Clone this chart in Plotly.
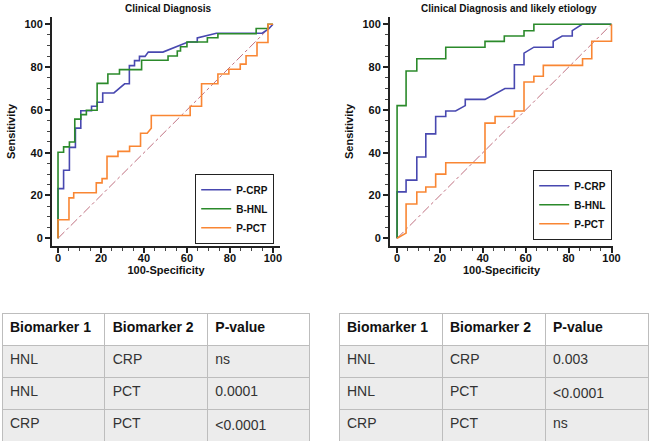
import plotly.graph_objects as go

W, H = 650, 442


def px(x):
    return x / W


def py(y):
    return 1 - y / H


FONT = "Liberation Sans"

# ---------------- Data: left panel "Clinical Diagnosis" ----------------
left_crp_x = [0, 0, 2.6, 2.6, 5.3, 5.3, 8.1, 8.1, 10.6, 10.6, 15.6, 15.6, 18.2, 18.2, 20.8, 20.8, 26, 31,
              33.2, 33.2, 35.6, 35.6, 37.9, 37.9, 40.5, 42, 48.8, 60.5, 64.8, 64.8, 73.7, 95, 98, 100]
left_crp_y = [0, 23.2, 23.2, 31.8, 31.8, 42.5, 42.5, 51.5, 51.5, 59.6, 59.6, 61.7, 61.7, 63.6, 63.6, 67.9, 67.9, 72.2,
              72.2, 80.7, 80.7, 83, 83, 85, 85, 87, 87, 91.7, 91.7, 93.6, 95.8, 95.8, 97.8, 100]

left_hnl_x = [0, 0, 2.6, 2.6, 5.3, 5.3, 7.8, 7.8, 10.6, 10.6, 13.2, 13.2, 18.2, 18.2, 23.2, 23.2, 28.6, 28.6,
              38.9, 38.9, 51.2, 51.2, 55.5, 55.5, 57, 57, 60, 60, 69.5, 69.5, 74.4, 74.4, 92.2, 92.2, 97.7, 97.7, 100]
left_hnl_y = [0, 40.2, 40.2, 42.7, 42.7, 45, 45, 55.7, 55.7, 57.8, 57.8, 59.8, 59.8, 72.4, 72.4, 76.8, 76.8, 78.8,
              78.8, 83.2, 83.2, 85.2, 85.2, 87.5, 87.5, 89.5, 89.5, 91.7, 91.7, 93.7, 93.7, 95.6, 95.6, 98, 98, 100, 100]

left_pct_x = [0, 0, 5.1, 5.1, 7.3, 7.3, 17.8, 17.8, 20.5, 20.5, 22.8, 22.8, 27.9, 27.9, 33.3, 33.3, 38.4, 38.4,
              41.5, 43.4, 43.4, 61.5, 61.5, 66.8, 66.8, 74.4, 74.4, 79.5, 79.5, 84.8, 84.8, 87.5, 87.5, 92.6, 92.6,
              97.7, 97.7, 100]
left_pct_y = [0, 8.7, 8.7, 18.9, 18.9, 21.3, 21.3, 25.9, 25.9, 27.9, 27.9, 38.3, 38.3, 40.6, 40.6, 43, 43, 49.1,
              49.1, 51.4, 57.4, 57.4, 61.7, 61.7, 72.2, 72.2, 76.8, 76.8, 79, 79, 81.4, 81.4, 85.3, 85.3, 91.5,
              91.5, 100, 100]

# ---------------- Data: right panel "Clinical Diagnosis and likely etiology" ----------------
right_crp_x = [0, 0, 4.2, 4.2, 9.2, 9.2, 13.4, 13.4, 18, 18, 22.7, 22.7, 27.3, 31.8, 31.8, 41, 50.3, 54.7, 54.7,
               59.2, 59.2, 63.8, 72.8, 72.8, 77, 81.7, 81.7, 86.3, 100]
right_crp_y = [0, 21.7, 21.7, 27.2, 27.2, 38, 38, 48.8, 48.8, 56.9, 56.9, 59.5, 59.5, 62, 64.9, 64.9, 70, 70, 81.1,
               81.1, 86.5, 89.3, 89.3, 92.1, 94.5, 94.5, 97, 100, 100]

right_hnl_x = [0, 0, 4.2, 4.2, 9.2, 9.2, 22.7, 22.7, 41, 41, 50, 50, 59.2, 59.2, 63.8, 63.8, 100]
right_hnl_y = [0, 62, 62, 78.2, 78.2, 83.9, 83.9, 89.3, 89.3, 92, 92, 94.5, 94.5, 97, 97, 100, 100]

right_pct_x = [0, 4.2, 4.2, 9.2, 9.2, 13.4, 13.4, 18, 18, 22.7, 22.7, 41, 41, 45.7, 45.7, 54.7, 54.7, 59.2, 59.2,
               63.8, 63.8, 68.2, 68.2, 86.5, 86.5, 90.8, 90.8, 100, 100]
right_pct_y = [0, 2.4, 16, 16, 21.6, 21.6, 24, 24, 30, 30, 35.3, 35.3, 53.8, 53.8, 56.9, 56.9, 59.5, 59.5, 73,
               73, 75.7, 75.7, 80.8, 80.8, 83.9, 83.9, 92.1, 92.1, 100]

diag = [0, 100]
tick_vals = [0, 20, 40, 60, 80, 100]
series_names = ["P-CRP", "B-HNL", "P-PCT"]
series_colors = ["#4848b0", "#2b8a2b", "#f98633"]

# ---------------- Data: tables ----------------
table_header = ["Biomarker 1", "Biomarker 2", "P-value"]
left_bio1 = ["HNL", "HNL", "CRP"]
left_bio2 = ["CRP", "PCT", "PCT"]
left_p = ["ns", "0.0001", "<0.0001"]
right_bio1 = ["HNL", "HNL", "CRP"]
right_bio2 = ["CRP", "PCT", "PCT"]
right_p = ["0.003", "<0.0001", "ns"]

fig = go.Figure()

panels = [
    ("x", "y", "legend", [(left_crp_x, left_crp_y), (left_hnl_x, left_hnl_y), (left_pct_x, left_pct_y)]),
    ("x2", "y2", "legend2", [(right_crp_x, right_crp_y), (right_hnl_x, right_hnl_y), (right_pct_x, right_pct_y)]),
]

for xa, ya, lg, curves in panels:
    fig.add_trace(go.Scatter(x=diag, y=diag, mode="lines", xaxis=xa, yaxis=ya, showlegend=False,
                             line=dict(color="#c07080", width=1, dash="dashdot"), hoverinfo="skip"))
    for (cx, cy), name, col in zip(curves, series_names, series_colors):
        fig.add_trace(go.Scatter(x=cx, y=cy, mode="lines", name=name, xaxis=xa, yaxis=ya, legend=lg,
                                 line=dict(color=col, width=1.6)))

tickfont = dict(family=FONT, size=11, color="#111", weight="bold")
titlefont = dict(family=FONT, size=11, color="#111", weight="bold")


def axis_common(rng, dom, anchor, title, standoff, lab_off):
    return dict(range=rng, domain=dom, anchor=anchor, showline=True, linecolor="#222", linewidth=2,
                ticks="outside", ticklen=5, tickwidth=1.5, tickcolor="#222", tickvals=tick_vals,
                minor=dict(dtick=5, ticks="outside", ticklen=3, tickwidth=1, tickcolor="#444"),
                showgrid=False, zeroline=False, tickfont=tickfont, automargin=False,
                ticklabelstandoff=lab_off,
                title=dict(text=title, font=titlefont, standoff=standoff))


ydom = [py(246), py(17)]
fig.update_layout(
    xaxis=axis_common([-2.8, 103.3], [px(52), px(280)], "y", "100-Specificity", 3, -4),
    yaxis=axis_common([-3.6, 103.4], ydom, "x", "Sensitivity", 7, 0),
    xaxis2=axis_common([-3.3, 100.7], [px(390), px(613)], "y2", "100-Specificity", 3, -4),
    yaxis2=axis_common([-3.6, 103.4], ydom, "x2", "Sensitivity", 7, 0),
)

legend_common = dict(bgcolor="white", bordercolor="#222", borderwidth=1.2, xanchor="right", yanchor="bottom",
                     font=dict(family=FONT, size=10, color="#111", weight="bold"), itemwidth=30,
                     tracegroupgap=0)
fig.update_layout(
    legend=dict(x=px(274), y=py(244), **legend_common),
    legend2=dict(x=px(612), y=py(240), **legend_common),
)

fig.add_annotation(text="Clinical Diagnosis", x=px(168), y=py(8), xref="paper", yref="paper",
                   xanchor="center", yanchor="middle",
                   showarrow=False, font=dict(family=FONT, size=10, color="#111", weight="bold"))
fig.add_annotation(text="Clinical Diagnosis and likely etiology", x=px(509), y=py(8), xref="paper", yref="paper",
                   xanchor="center", yanchor="middle",
                   showarrow=False, font=dict(family=FONT, size=10, color="#111", weight="bold"))

hdr_font = dict(family=FONT, size=14, color="#111", weight="bold")
cell_font = dict(family=FONT, size=14, color="#333")
for (x0, x1), cols in [((2, 310), [left_bio1, left_bio2, left_p]), ((339, 648), [right_bio1, right_bio2, right_p])]:
    fig.add_trace(go.Table(
        domain=dict(x=[px(x0), px(x1)], y=[0, py(313)]),
        columnwidth=[1, 1, 1],
        header=dict(values=table_header, fill_color="white", line=dict(color="#bdbdbd", width=1),
                    align="left", font=hdr_font, height=32),
        cells=dict(values=cols, fill_color="#ececec", line=dict(color="#bdbdbd", width=1),
                   align="left", font=cell_font, height=32),
    ))

fig.update_layout(width=W, height=H, margin=dict(l=0, r=0, t=0, b=0),
                  paper_bgcolor="white", plot_bgcolor="white", showlegend=True)

fig.write_html("out.html", config={"displayModeBar": False},
               post_script="document.body.style.margin='0px';")
